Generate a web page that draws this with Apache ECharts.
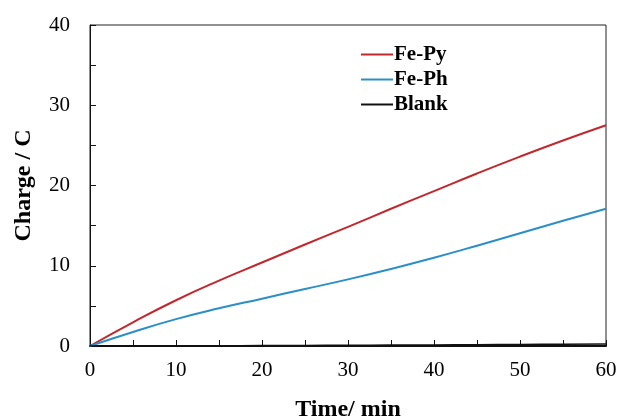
<!DOCTYPE html>
<html>
<head>
<meta charset="utf-8">
<script src="https://cdn.jsdelivr.net/npm/echarts@6/dist/echarts.min.js"></script>
<style>
  html, body { margin: 0; padding: 0; background: #fff; }
</style>
</head>
<body>
<div id="main" style="width: 618px;height:419px;"></div>
<script>
// time axis (min)
var times = [0, 5, 10, 15, 20, 25, 30, 35, 40, 45, 50, 55, 60]
// charge (C)
var fePy = [0, 2.95, 5.7, 8.15, 10.4, 12.65, 14.85, 17.1, 19.3, 21.5, 23.6, 25.6, 27.5]
var fePh = [0, 1.75, 3.35, 4.7, 5.9, 7.1, 8.3, 9.6, 11.0, 12.5, 14.05, 15.6, 17.1]
var blank = [0, 0.01, 0.02, 0.03, 0.05, 0.07, 0.09, 0.11, 0.13, 0.16, 0.19, 0.22, 0.26]
var seriesNames = ['Fe-Py', 'Fe-Ph', 'Blank']
var seriesColors = ['#c0282d', '#2b8fc7', '#111111']

function pairs (ys) {
  return times.map(function (t, i) { return [t, ys[i]] })
}

var font = 'Liberation Serif, Times New Roman, serif'
var myChart = echarts.init(document.getElementById('main'))

var option = {
  animation: false,
  grid: {
    left: 90,
    top: 25,
    right: 12,
    bottom: 73,
    outerBoundsMode: 'none',
    containLabel: false,
    show: true,
    borderColor: '#222',
    borderWidth: 1
  },
  legend: {
    orient: 'vertical',
    left: 356,
    top: 39,
    itemWidth: 32,
    itemHeight: 2,
    itemGap: 4,
    data: seriesNames.map(function (n) { return { name: n, icon: 'rect' } }),
    textStyle: { fontFamily: font, fontWeight: 'bold', fontSize: 21, color: '#000', padding: [0, 0, 0, -4] }
  },
  xAxis: {
    type: 'value',
    min: 0,
    max: 60,
    interval: 10,
    name: 'Time/ min',
    nameLocation: 'middle',
    nameGap: 52,
    nameTextStyle: { fontFamily: font, fontWeight: 'bold', fontSize: 24, color: '#000' },
    axisLine: { show: true, lineStyle: { color: '#111', width: 2 } },
    axisTick: { show: true, inside: true, length: 6, lineStyle: { color: '#111' } },
    minorTick: { show: true, splitNumber: 2, length: 6, lineStyle: { color: '#111' } },
    splitLine: { show: false },
    axisLabel: { fontFamily: font, fontSize: 21, color: '#000', margin: 14 }
  },
  yAxis: {
    type: 'value',
    min: 0,
    max: 40,
    interval: 10,
    name: 'Charge / C',
    nameLocation: 'middle',
    nameGap: 54,
    nameTextStyle: { fontFamily: font, fontWeight: 'bold', fontSize: 24, color: '#000' },
    axisLine: { show: true, lineStyle: { color: '#111', width: 1 } },
    axisTick: { show: true, inside: true, length: 6, lineStyle: { color: '#111' } },
    minorTick: { show: true, splitNumber: 2, length: 6, lineStyle: { color: '#111' } },
    splitLine: { show: false },
    axisLabel: { fontFamily: font, fontSize: 21, color: '#000', margin: 20 }
  },
  series: [fePy, fePh, blank].map(function (ys, i) {
    return {
      name: seriesNames[i],
      type: 'line',
      smooth: true,
      symbol: 'none',
      data: pairs(ys),
      itemStyle: { color: seriesColors[i] },
      lineStyle: { color: seriesColors[i], width: i === 2 ? 1.5 : 2 }
    }
  })
}

myChart.setOption(option)
</script>
</body>
</html>
